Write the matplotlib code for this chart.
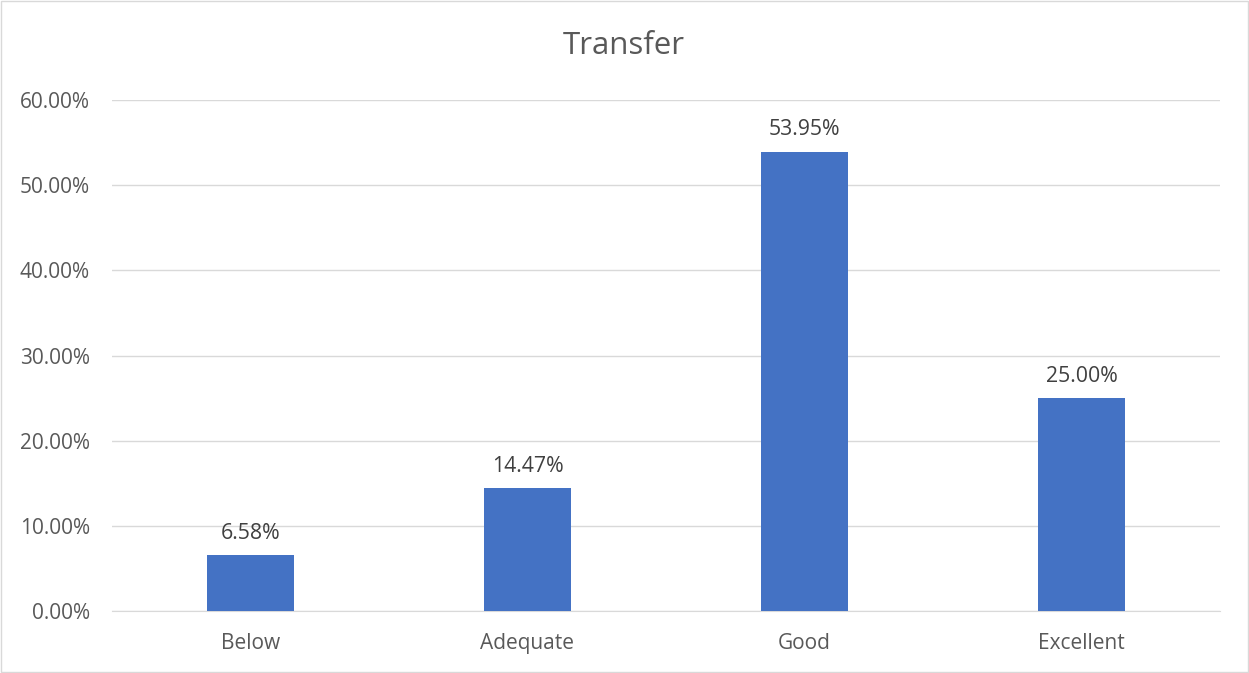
import matplotlib
matplotlib.use("Agg")
import matplotlib.pyplot as plt
from matplotlib.ticker import PercentFormatter

plt.rcParams["font.family"] = ["Open Sans", "DejaVu Sans"]

categories = ["Below", "Adequate", "Good", "Excellent"]
shares = [0.0658, 0.1447, 0.5395, 0.2500]
labels = ["6.58%", "14.47%", "53.95%", "25.00%"]

text_grey = "#595959"
bar_blue = "#4472C4"

fig = plt.figure(figsize=(12.49, 6.73), dpi=100)
ax = fig.add_axes([112 / 1249, 1 - 611 / 673, (1220 - 112) / 1249, (611 - 100) / 673])

x = range(len(categories))
bars = ax.bar(x, shares, width=0.314, color=bar_blue, zorder=3)
for b, lab in zip(bars, labels):
    ax.annotate(lab, (b.get_x() + b.get_width() / 2, b.get_height()),
                xytext=(0, 8), textcoords="offset points",
                ha="center", va="bottom", fontsize=15.3, color="#404040")

ax.set_xlim(-0.5, 3.5)
ax.set_ylim(0, 0.6)
ax.set_yticks([i / 10 for i in range(7)])
ax.yaxis.set_major_formatter(PercentFormatter(1.0, decimals=2))
ax.set_xticks(list(x))
ax.set_xticklabels(categories)
ax.tick_params(length=0, labelsize=15, labelcolor=text_grey)
ax.tick_params(axis="x", pad=16)
ax.tick_params(axis="y", pad=16)
ax.grid(axis="y", color="#d9d9d9", linewidth=1, zorder=0)
for s in ["top", "right", "left"]:
    ax.spines[s].set_visible(False)
ax.spines["bottom"].set_color("#d9d9d9")

fig.text(624 / 1249, 1 - 46 / 673, "Transfer", ha="center", va="center",
         fontsize=22.5, color=text_grey)

fig.patches.append(plt.Rectangle((0.001, 0.001), 0.998, 0.998, transform=fig.transFigure,
                                 fill=False, edgecolor="#d9d9d9", linewidth=1))

fig.savefig("out.png", dpi=100)
